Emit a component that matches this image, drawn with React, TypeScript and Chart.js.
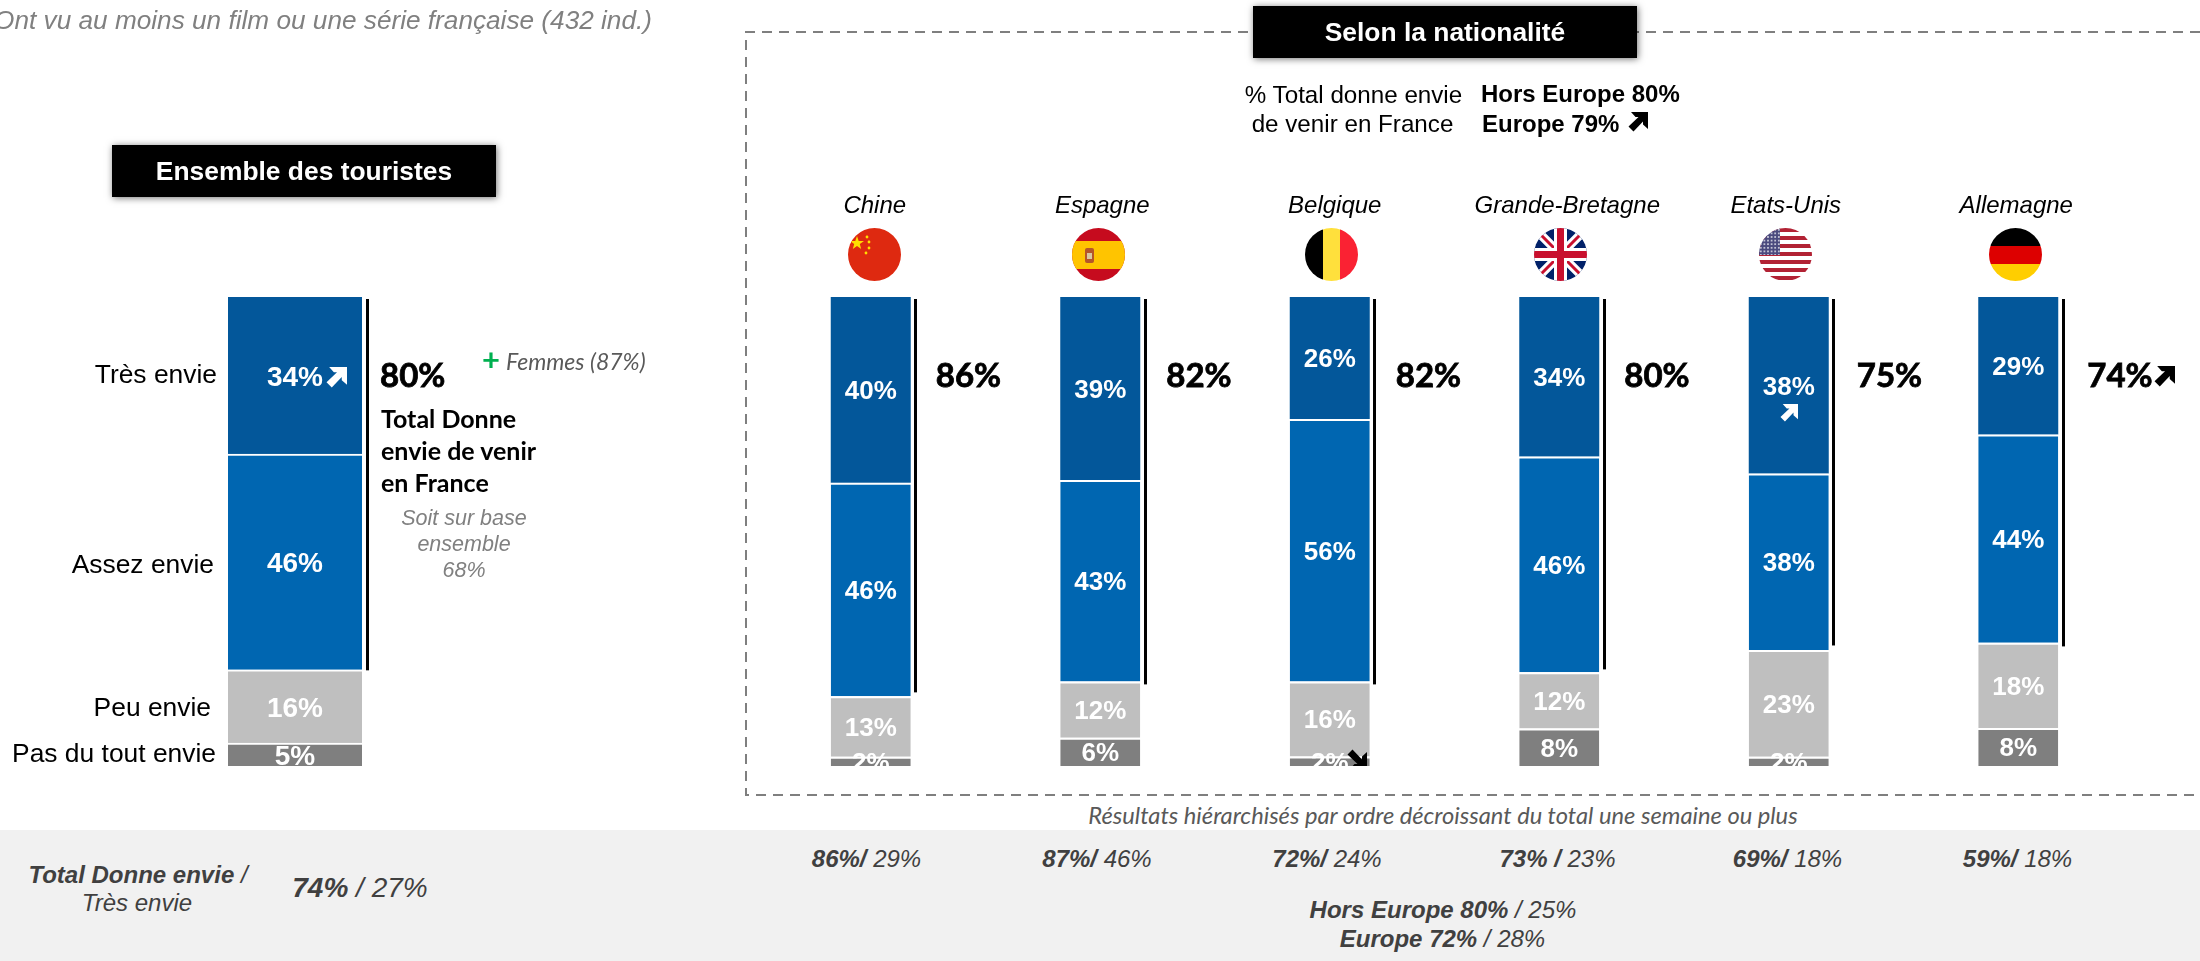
import React, { useEffect, useRef } from "react";
import { Chart, registerables } from "chart.js";

Chart.register(...registerables);

const levels = ["Pas du tout envie", "Peu envie", "Assez envie", "Très envie"];
const levelColors = ["#7F7F7F", "#BFBFBF", "#0066B1", "#03579A"];

const ensembleLabel = ["Ensemble des touristes"];
const ensemblePasDuTout = [4.9];
const ensemblePeu = [15.6];
const ensembleAssez = [46.0];
const ensembleTres = [33.5];
const ensembleTotal = ["80%"];
const ensembleBracketBase = [20.4];
const ensembleTotalNudge = [-7];

const countries = ["Chine", "Espagne", "Belgique", "Grande-Bretagne", "Etats-Unis", "Allemagne"];
const countryPasDuTout = [2, 6, 2, 8, 2, 8];
const countryPeu = [13, 12, 16, 12, 23, 18];
const countryAssez = [46, 43, 56, 46, 38, 44];
const countryTres = [40, 39, 26, 34, 38, 29];
const countryTotal = ["86%", "82%", "82%", "80%", "75%", "74%"];
const countryBracketBase = [15.7, 17.4, 17.4, 20.6, 25.7, 25.5];
const countryTotalNudge = [0, 1, 1, 0, 3, 4];
const countryNameNudge = [4, 2, 5, 8, -3, -2];

const footerCountryTotal = ["86%/", "87%/", "72%/", "73% /", "69%/", "59%/"];
const footerCountryTres = ["29%", "46%", "24%", "23%", "18%", "18%"];
const footerCountryCentre = [866.5, 1097, 1327, 1557.5, 1787.5, 2017.5];

const ARIAL = '"Liberation Sans", Arial, sans-serif';
const CALIBRI = 'Lato, "Open Sans", sans-serif';
const PAGE_W = 2200;
const PAGE_H = 766;

type Group = {
  labels: string[];
  series: number[][];
  totals: string[];
  totalNudge: number[];
  bracketBase: number[];
  left: number;
  right: number;
  barShare: number;
  labelSize: number;
  nameNudge?: number[];
};

const stackPlugin = {
  id: "stackAnnotations",
  afterDatasetsDraw(chart: any, _args: any, opts: any) {
    const g: Group = opts.group;
    const { ctx, chartArea } = chart;
    const yScale = chart.scales.y;
    const xScale = chart.scales.x;
    ctx.save();
    g.labels.forEach((name, i) => {
      const bar = chart.getDatasetMeta(3).data[i];
      const half = bar.width / 2;
      const right = bar.x + half;
      // bracket of the positive answers
      ctx.fillStyle = "#000";
      const yTop = yScale.getPixelForValue(100) + 2;
      const yBase = yScale.getPixelForValue(g.bracketBase[i]);
      ctx.fillRect(Math.round(right + 3.5), yTop, 3, yBase - yTop);
      // total
      ctx.textAlign = "left";
      ctx.textBaseline = "alphabetic";
      ctx.font = "bold 33px " + CALIBRI;
      ctx.lineWidth = 0.8;
      ctx.strokeStyle = "#000";
      const tx = right + 25 + g.totalNudge[i];
      ctx.fillText(g.totals[i], tx, 387);
      ctx.strokeText(g.totals[i], tx, 387);
      // country name
      if (g.nameNudge) {
        ctx.textAlign = "center";
        ctx.font = "italic 24px " + ARIAL;
        ctx.fillText(name, xScale.getPixelForValue(i) + g.nameNudge[i], 213);
      }
    });
    // segment values, cut off by the foot of the chart like in the original
    ctx.beginPath();
    ctx.rect(0, 0, chart.width, chartArea.bottom);
    ctx.clip();
    ctx.fillStyle = "#fff";
    ctx.textAlign = "center";
    ctx.font = "bold " + g.labelSize + "px " + ARIAL;
    g.series.forEach((values, s) => {
      const meta = chart.getDatasetMeta(s);
      values.forEach((v, i) => {
        const el = meta.data[i];
        const mid = (el.y + el.base) / 2;
        ctx.fillText(Math.round(v) + "%", el.x, mid + g.labelSize * 0.36);
      });
    });
    ctx.restore();
  },
};

function StackChart({ group }: { group: Group }) {
  const ref = useRef<HTMLCanvasElement | null>(null);
  useEffect(() => {
    const columnTotals = group.labels.map((_, i) =>
      group.series.reduce((sum, s) => sum + s[i], 0)
    );
    const chart = new Chart(ref.current as HTMLCanvasElement, {
      type: "bar",
      data: {
        labels: group.labels,
        datasets: group.series.map((values, s) => ({
          label: levels[s],
          data: values.map((v, i) => (v / columnTotals[i]) * 100),
          backgroundColor: levelColors[s],
          borderColor: "#FFFFFF",
          borderWidth: s === 3 ? 0 : { top: 2, left: 0, right: 0, bottom: 0 },
          borderSkipped: false,
          barPercentage: group.barShare,
          categoryPercentage: 1,
        })),
      },
      options: {
        responsive: false,
        animation: false,
        devicePixelRatio: 1,
        layout: {
          padding: { left: group.left, right: PAGE_W - group.right, top: 297, bottom: 0 },
        },
        plugins: {
          legend: { display: false },
          title: { display: false },
          tooltip: { enabled: false },
          stackAnnotations: { group },
        },
        scales: {
          x: { stacked: true, display: false },
          y: { stacked: true, display: false, min: 0, max: 100 },
        },
      } as any,
      plugins: [stackPlugin],
    });
    return () => chart.destroy();
  }, [group]);
  return (
    <canvas
      ref={ref}
      width={PAGE_W}
      height={PAGE_H}
      style={{ position: "absolute", left: 0, top: 0, display: "block" }}
    />
  );
}

const ensembleGroup: Group = {
  labels: ensembleLabel,
  series: [ensemblePasDuTout, ensemblePeu, ensembleAssez, ensembleTres],
  totals: ensembleTotal,
  totalNudge: ensembleTotalNudge,
  bracketBase: ensembleBracketBase,
  left: 228,
  right: 362,
  barShare: 1,
  labelSize: 28,
};

const countryGroup: Group = {
  labels: countries,
  series: [countryPasDuTout, countryPeu, countryAssez, countryTres],
  totals: countryTotal,
  totalNudge: countryTotalNudge,
  bracketBase: countryBracketBase,
  left: 756,
  right: 2133,
  barShare: 80 / 229.5,
  labelSize: 26,
  nameNudge: countryNameNudge,
};

type TP = {
  x: number;
  y: number;
  a?: "l" | "c" | "r";
  s: number;
  b?: boolean;
  i?: boolean;
  c?: string;
  f?: string;
  ls?: number;
  children: React.ReactNode;
};

function T({ x, y, a = "l", s, b, i, c = "#000", f = ARIAL, ls, children }: TP) {
  const tx = a === "l" ? "0" : a === "c" ? "-50%" : "-100%";
  return (
    <div
      style={{
        position: "absolute",
        left: x,
        top: y,
        transform: `translate(${tx}, -50%)`,
        whiteSpace: "pre",
        fontFamily: f,
        fontSize: s,
        fontWeight: b ? 700 : 400,
        fontStyle: i ? "italic" : "normal",
        color: c,
        lineHeight: 1,
        letterSpacing: ls,
      }}
    >
      {children}
    </div>
  );
}

function Arrow({ x, y, size, color, flip }: { x: number; y: number; size: number; color: string; flip?: boolean }) {
  return (
    <svg
      width={size}
      height={size}
      viewBox="0 0 20 20"
      style={{ position: "absolute", left: x, top: y, transform: flip ? "scaleY(-1)" : undefined }}
    >
      <path d="M3 0 H20 V17 L15 12.5 V9.5 L5.5 19.5 L0.5 14.5 L10.5 5 H7.5 Z" fill={color} />
    </svg>
  );
}

function Flag({ cx, id, children }: { cx: number; id: string; children: React.ReactNode }) {
  return (
    <svg width={53} height={53} viewBox="0 0 53 53" style={{ position: "absolute", left: cx - 26.5, top: 227.5 }}>
      <defs>
        <clipPath id={id}>
          <circle cx={26.5} cy={26.5} r={26.5} />
        </clipPath>
        <pattern id={id + "p"} width={3.6} height={3.6} patternUnits="userSpaceOnUse">
          <circle cx={1.8} cy={1.8} r={0.8} fill="#fff" />
        </pattern>
      </defs>
      <g clipPath={`url(#${id})`}>{children}</g>
    </svg>
  );
}

const usStripes = [0, 8, 16, 24, 32, 40, 48];

function Flags() {
  return (
    <>
      <Flag cx={874} id="fcn">
        <rect width={53} height={53} fill="#DE2910" />
        <polygon points="9,8 10.7,13 16,13 11.8,16 13.2,21 9,18 4.8,21 6.2,16 2,13 7.3,13" fill="#FFDE00" />
        <circle cx={19} cy={9} r={1.4} fill="#FFDE00" />
        <circle cx={21} cy={14} r={1.4} fill="#FFDE00" />
        <circle cx={21} cy={20} r={1.4} fill="#FFDE00" />
        <circle cx={18} cy={25} r={1.4} fill="#FFDE00" />
      </Flag>
      <Flag cx={1098} id="fes">
        <rect width={53} height={53} fill="#C60B1E" />
        <rect y={13} width={53} height={28} fill="#FFC400" />
        <rect x={13} y={20} width={9} height={15} rx={2} fill="#B5562A" />
        <rect x={15} y={25} width={5} height={6} fill="#D8C8A0" />
      </Flag>
      <Flag cx={1331} id="fbe">
        <rect width={18} height={53} fill="#000" />
        <rect x={18} width={18} height={53} fill="#FFE03C" />
        <rect x={35} width={18} height={53} fill="#FA2233" />
      </Flag>
      <Flag cx={1560} id="fgb">
        <rect width={53} height={53} fill="#012169" />
        <path d="M0 0 L53 53 M53 0 L0 53" stroke="#fff" strokeWidth={9} />
        <path d="M0 0 L53 53 M53 0 L0 53" stroke="#C8102E" strokeWidth={3} />
        <rect x={20} width={13} height={53} fill="#fff" />
        <rect y={20} width={53} height={13} fill="#fff" />
        <rect x={23} width={7} height={53} fill="#C8102E" />
        <rect y={23} width={53} height={7} fill="#C8102E" />
      </Flag>
      <Flag cx={1785} id="fus">
        <rect width={53} height={53} fill="#fff" />
        {usStripes.map((y) => (
          <rect key={y} y={y} width={53} height={4} fill="#B22234" />
        ))}
        <rect width={21} height={27} fill="#4B4A7E" />
        <rect width={21} height={27} fill="url(#fusp)" />
      </Flag>
      <Flag cx={2015} id="fde">
        <rect width={53} height={18} fill="#000" />
        <rect y={18} width={53} height={18} fill="#DD0000" />
        <rect y={36} width={53} height={17} fill="#FFCE00" />
      </Flag>
    </>
  );
}

function DashedFrame() {
  const d = "#7F7F7F";
  return (
    <svg width={2200} height={961} style={{ position: "absolute", left: 0, top: 0 }}>
      <path d="M2200 32 H746 V795 H2200" fill="none" stroke={d} strokeWidth={2} strokeDasharray="10 7" />
    </svg>
  );
}

function BlackBox({ x, y, w, h, children }: { x: number; y: number; w: number; h: number; children: React.ReactNode }) {
  return (
    <div
      style={{
        position: "absolute",
        left: x,
        top: y,
        width: w,
        height: h,
        background: "#000",
        boxShadow: "1px 1px 7px rgba(0,0,0,0.55)",
        color: "#fff",
        fontFamily: ARIAL,
        fontWeight: 700,
        fontSize: 26.4,
        lineHeight: `${h}px`,
        textAlign: "center",
        whiteSpace: "pre",
      }}
    >
      {children}
    </div>
  );
}

export default function App() {
  return (
    <div
      style={{
        position: "absolute",
        left: 0,
        top: 0,
        width: 2200,
        height: 961,
        overflow: "hidden",
        background: "#fff",
      }}
    >
      <div style={{ position: "absolute", left: 0, top: 830, width: 2200, height: 131, background: "#F1F1F1" }} />
      <DashedFrame />
      <StackChart group={ensembleGroup} />
      <StackChart group={countryGroup} />
      <Flags />

      <T x={652} y={20} a="r" s={26.2} i c="#808080">Ont vu au moins un film ou une série française (432 ind.)</T>

      <BlackBox x={112} y={145} w={384} h={52}>Ensemble des touristes</BlackBox>
      <BlackBox x={1253} y={6} w={384} h={52}>Selon la nationalité</BlackBox>

      <T x={1353.5} y={95} a="c" s={24.2}>% Total donne envie</T>
      <T x={1352.5} y={124} a="c" s={24.2}>de venir en France</T>
      <T x={1481} y={94} s={24} b>Hors Europe 80%</T>
      <T x={1482} y={124} s={24} b>Europe 79%</T>
      <Arrow x={1628} y={112} size={20} color="#000" />

      <T x={217} y={374} a="r" s={26.4}>Très envie</T>
      <T x={214} y={564} a="r" s={26.4}>Assez envie</T>
      <T x={211} y={707} a="r" s={26.4}>Peu envie</T>
      <T x={216} y={753} a="r" s={26.4}>Pas du tout envie</T>

      <Arrow x={326} y={367} size={21} color="#fff" />
      <Arrow x={1780} y={404} size={18} color="#fff" />
      <Arrow x={2154} y={366} size={21} color="#000" />
      <div style={{ position: "absolute", left: 1346, top: 748, width: 22, height: 18, overflow: "hidden" }}>
        <Arrow x={1} y={1} size={20} color="#000" flip />
      </div>

      <T x={482} y={359} s={31} b c="#00B050" f={CALIBRI}>+</T>
      <T x={506} y={361} s={23} i c="#595959" f={CALIBRI}>Femmes (87%)</T>

      <T x={381} y={418} s={25} b f={CALIBRI}>Total Donne</T>
      <T x={381} y={450} s={25} b f={CALIBRI}>envie de venir</T>
      <T x={381} y={482} s={25} b f={CALIBRI}>en France</T>

      <T x={464} y={519} a="c" s={21.5} i c="#808080">Soit sur base</T>
      <T x={464} y={545} a="c" s={21.5} i c="#808080">ensemble</T>
      <T x={464} y={571} a="c" s={21.5} i c="#808080">68%</T>

      <T x={1443} y={816} a="c" s={23.7} i c="#595959" f={CALIBRI}>Résultats hiérarchisés par ordre décroissant du total une semaine ou plus</T>

      <T x={138} y={875} a="c" s={24} i c="#404040"><b>Total Donne envie</b> /</T>
      <T x={137} y={903} a="c" s={24} i c="#404040">Très envie</T>
      <T x={360} y={888} a="c" s={28} i c="#404040"><b>74%</b> / 27%</T>

      {footerCountryTotal.map((t, i) => (
        <T key={countries[i]} x={footerCountryCentre[i]} y={859} a="c" s={24} i c="#404040">
          <b>{t}</b> {footerCountryTres[i]}
        </T>
      ))}
      <T x={1443} y={910} a="c" s={24} i c="#404040"><b>Hors Europe 80%</b> / 25%</T>
      <T x={1442.5} y={939} a="c" s={24} i c="#404040"><b>Europe 72%</b> / 28%</T>
    </div>
  );
}
